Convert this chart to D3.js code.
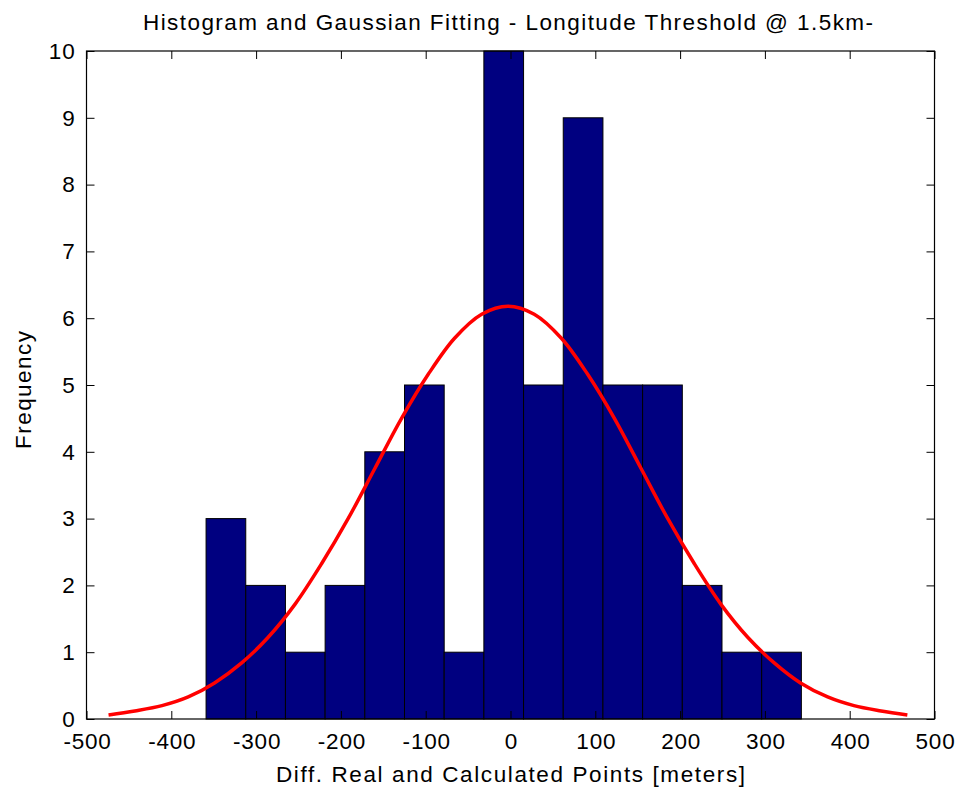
<!DOCTYPE html>
<html>
<head>
<meta charset="utf-8">
<script src="https://cdn.jsdelivr.net/npm/d3@7"></script>
<style>
  html, body { margin: 0; padding: 0; background: #fff; }
  text { font-family: "Liberation Sans", Arial, sans-serif; fill: #000; }
</style>
</head>
<body>
<svg id="chart" width="963" height="793"></svg>
<script>
// ---- data ----
const binEdges = [-359, -312.2, -265.4, -218.6, -171.8, -125, -78.2, -31.4, 15.4, 62.2, 109, 155.8, 202.6, 249.4, 296.2, 343];
const binCounts = [3, 2, 1, 2, 4, 5, 1, 10, 5, 9, 5, 5, 2, 1, 1];
const fitX = [-474, -443, -411, -380, -349, -317, -286, -254, -223, -191, -160, -129, -97, -66, -34, -3, 28, 60, 91, 123, 154, 185, 217, 248, 280, 311, 342, 374, 405, 437, 468];
const fitY = [0.06, 0.12, 0.2, 0.33, 0.54, 0.84, 1.22, 1.72, 2.32, 3.01, 3.75, 4.49, 5.16, 5.70, 6.06, 6.18, 6.06, 5.70, 5.16, 4.49, 3.75, 3.01, 2.32, 1.72, 1.22, 0.84, 0.54, 0.33, 0.2, 0.12, 0.06];
const xTicks = [-500, -400, -300, -200, -100, 0, 100, 200, 300, 400, 500];
const yTicks = [0, 1, 2, 3, 4, 5, 6, 7, 8, 9, 10];
const titleText = "Histogram and Gaussian Fitting - Longitude Threshold @ 1.5km-";
const xLabel = "Diff. Real and Calculated Points [meters]";
const yLabel = "Frequency";

// ---- layout ----
const L = 86.5, R = 934.5, T = 51, B = 719;
const svg = d3.select("#chart");
const x = d3.scaleLinear().domain([-500, 500]).range([L, R]);
const y = d3.scaleLinear().domain([0, 10]).range([B, T]);

// bars
const bins = binCounts.map((c, i) => ({x0: binEdges[i], x1: binEdges[i + 1], c}));
svg.append("g").selectAll("rect").data(bins).join("rect")
  .attr("x", d => x(d.x0))
  .attr("y", d => y(d.c))
  .attr("width", d => x(d.x1) - x(d.x0))
  .attr("height", d => y(0) - y(d.c))
  .attr("fill", "#000080")
  .attr("stroke", "#000")
  .attr("stroke-width", 1);

// fitted curve
const line = d3.line().x((d, i) => x(fitX[i])).y(d => y(d)).curve(d3.curveCatmullRom);
svg.append("path").datum(fitY)
  .attr("d", line)
  .attr("fill", "none")
  .attr("stroke", "#ff0000")
  .attr("stroke-width", 3.5)
  .attr("stroke-linejoin", "round");

// axes (ticks inward, mirrored)
const tk = 8;
const fs = 22.5;
const fmt = d => String(d);
const gB = svg.append("g").attr("transform", `translate(0,${B})`)
  .call(d3.axisBottom(x).tickValues(xTicks).tickSizeInner(-tk).tickSizeOuter(0).tickPadding(14).tickFormat(fmt));
const gT = svg.append("g").attr("transform", `translate(0,${T})`)
  .call(d3.axisTop(x).tickValues(xTicks).tickSizeInner(-tk).tickSizeOuter(0).tickFormat(""));
const gL = svg.append("g").attr("transform", `translate(${L},0)`)
  .call(d3.axisLeft(y).tickValues(yTicks).tickSizeInner(-tk).tickSizeOuter(0).tickPadding(12).tickFormat(fmt));
const gR = svg.append("g").attr("transform", `translate(${R},0)`)
  .call(d3.axisRight(y).tickValues(yTicks).tickSizeInner(-tk).tickSizeOuter(0).tickFormat(""));
[gB, gT, gL, gR].forEach(g => {
  g.select(".domain").remove();
  g.selectAll("line").attr("stroke", "#000").attr("stroke-width", 1);
  g.selectAll("text").attr("font-size", fs).attr("font-family", "Liberation Sans, Arial, sans-serif")
    .attr("fill", "#000").attr("letter-spacing", 0.8);
});
gL.selectAll("text").attr("dx", 1);
gB.selectAll("text").attr("dx", 0.5);

// box
svg.append("rect").attr("x", L).attr("y", T).attr("width", R - L).attr("height", B - T)
  .attr("fill", "none").attr("stroke", "#000").attr("stroke-width", 1.2);

// title & labels
svg.append("text").attr("x", 508).attr("y", 30).attr("text-anchor", "middle")
  .attr("font-size", 22.5).attr("textLength", 730).attr("lengthAdjust", "spacing").text(titleText);
svg.append("text").attr("x", 510.5).attr("y", 782).attr("text-anchor", "middle")
  .attr("font-size", 22.5).attr("textLength", 469).attr("lengthAdjust", "spacing").text(xLabel);
svg.append("text").attr("transform", `translate(31,390) rotate(-90)`).attr("text-anchor", "middle")
  .attr("font-size", 22.5).attr("textLength", 118).attr("lengthAdjust", "spacing").text(yLabel);
</script>
</body>
</html>
